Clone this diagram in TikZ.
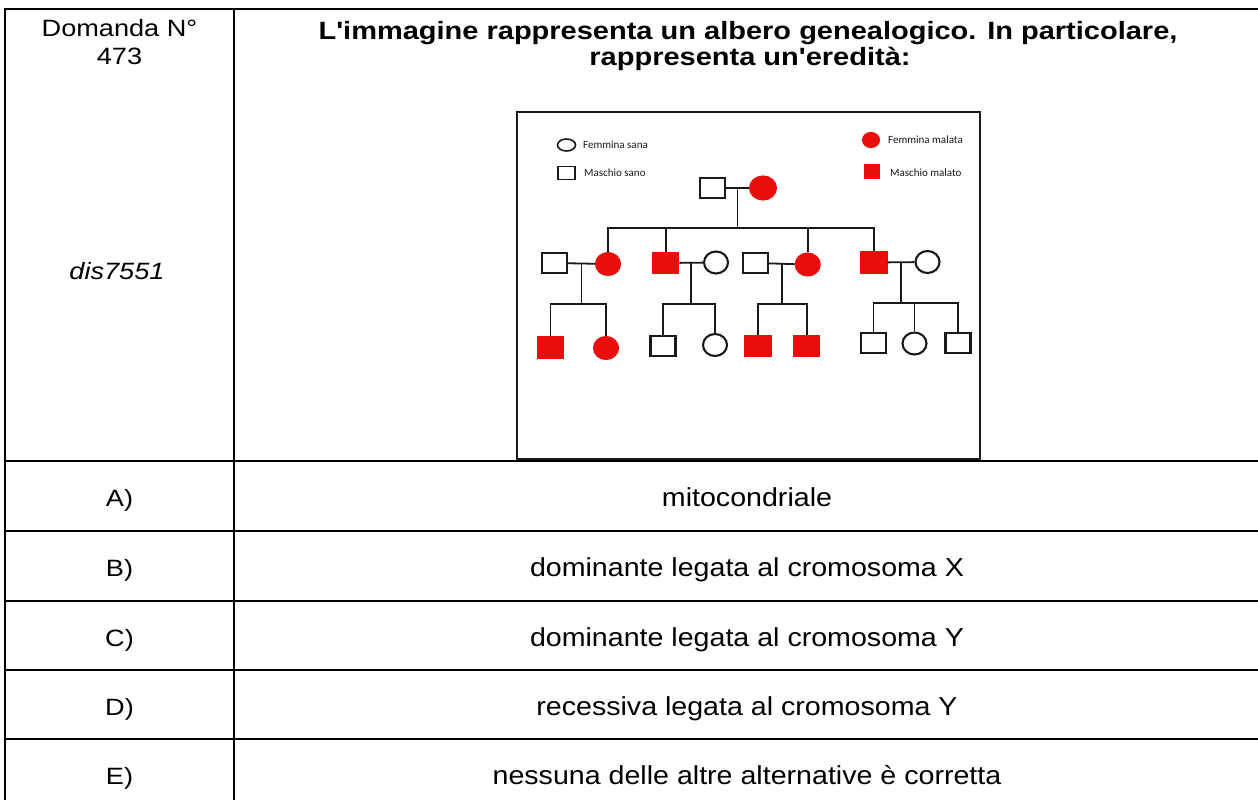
\documentclass[tikz,border=0pt]{standalone}
\usepackage{fontspec}
\setmainfont{Liberation Sans}
\newfontfamily\legfont{Carlito}
\usetikzlibrary{shapes.geometric,calc}
\definecolor{pedred}{RGB}{235,12,12}
\definecolor{ink}{RGB}{25,25,25}
\newcommand\sx[2]{\scalebox{#1}[1]{#2}}
\newcommand\fsS{\fontsize{23.6}{27.6}\selectfont}
\newcommand\fsL{\fontsize{26}{29}\selectfont}
\newcommand\fsT{\fontsize{25}{29}\selectfont}
\begin{document}
\begin{tikzpicture}[x=1pt,y=-1pt,
  grid/.style={line width=2.7pt,black},
  txt/.style={inner sep=0pt,anchor=base},
  ped/.style={line width=1.8pt,ink},
  male/.style={rectangle,draw=ink,line width=2.1pt,fill=white,minimum width=25pt,minimum height=20pt,inner sep=0pt},
  female/.style={ellipse,draw=ink,line width=2.1pt,fill=white,minimum width=24pt,minimum height=22pt,inner sep=0pt},
  sick/.style={fill=pedred,draw=pedred},
  legtxt/.style={inner sep=0pt,anchor=west,font=\legfont\fontsize{11}{12}\selectfont,text=ink}
]
\useasboundingbox (0,0) rectangle (1258,800);
\fill[white] (0,0) rectangle (1258,800);

% table grid
\draw[grid] (5,800) -- (5,9) -- (1258,9);
\draw[grid] (234,9) -- (234,800);
\foreach \yy in {461,531,601,670,739} \draw[grid] (5,\yy) -- (1258,\yy);

% header texts
\node[txt] (qa) at (119.5,36.7) {\fsS\sx{1.15}{Domanda N°}};
\node[txt] (qb) at (119.5,64.3) {\fsS\sx{1.15}{473}};
\node[txt] (qc) at (117,279) {\fsS\itshape\sx{1.15}{dis7551}};
\node[txt] (t1) at (748,39.5) {\fsT\bfseries\sx{1.16}{L\textquotesingle immagine rappresenta un albero genealogico. In particolare,}};
\node[txt] (t2) at (750,65.5) {\fsT\bfseries\sx{1.16}{rappresenta un\textquotesingle eredità:}};

% answers
\node[txt] (la) at (119.5,506.5) {\fsS\sx{1.15}{A)}};
\node[txt] (lb) at (119.5,576.5) {\fsS\sx{1.15}{B)}};
\node[txt] (lc) at (119.5,646) {\fsS\sx{1.15}{C)}};
\node[txt] (ld) at (119.5,715) {\fsS\sx{1.15}{D)}};
\node[txt] (le) at (119.5,784) {\fsS\sx{1.15}{E)}};
\node[txt] (aa) at (747,506.5) {\fsL\sx{1.1}{mitocondriale}};
\node[txt] (ab) at (747,576.5) {\fsL\sx{1.1}{dominante legata al cromosoma X}};
\node[txt] (ac) at (747,646) {\fsL\sx{1.1}{dominante legata al cromosoma Y}};
\node[txt] (ad) at (747,715) {\fsL\sx{1.1}{recessiva legata al cromosoma Y}};
\node[txt] (ae) at (747,784) {\fsL\sx{1.1}{nessuna delle altre alternative è corretta}};

% pedigree frame
\draw[line width=2pt,ink] (517,112) rectangle (980,459);

% connectors (drawn first, shapes on top)
\coordinate (s0) at (0,228);
\coordinate (s1) at (0,304);
\coordinate (s4) at (0,303.3);

% legend
\node[female,minimum width=18pt,minimum height=12pt,line width=1.6pt] (lf) at (566.5,145) {};
\node[legtxt] (lft) at (583,145) {Femmina sana};
\node[male,minimum width=17pt,minimum height=13pt,line width=1.6pt] (lm) at (566.5,173) {};
\node[legtxt] (lmt) at (584,173) {Maschio sano};
\node[female,sick,minimum width=16pt,minimum height=14pt] (lsf) at (871,140) {};
\node[legtxt] (lsft) at (888,140) {Femmina malata};
\node[male,sick,minimum width=14pt,minimum height=13pt] (lsm) at (872,171.5) {};
\node[legtxt] (lsmt) at (890,173) {Maschio malato};

% generation 0
\node[male] (p0m) at (712.5,188) {};
\node[female,sick,minimum width=26pt,minimum height=23pt] (p0f) at (763,188) {};

% generation 1
\node[male] (h1) at (554.5,263) {};
\node[female,sick] (g1a) at (608,264) {};
\node[male,sick] (g1b) at (665.7,263) {};
\node[female] (w2) at (716,262.5) {};
\node[male] (h3) at (755.5,263) {};
\node[female,sick] (g1c) at (807.7,264.5) {};
\node[male,sick] (g1d) at (874,262.5) {};
\node[female] (w4) at (927.5,262) {};

% generation 2
\node[male,sick] (k1) at (550.5,347.5) {};
\node[female,sick] (k2) at (606,348) {};
\node[male] (k3) at (663,346) {};
\node[female] (k4) at (715,345) {};
\node[male,sick] (k5) at (758,346) {};
\node[male,sick] (k6) at (806.7,346) {};
\node[male] (k7) at (873.5,343) {};
\node[female] (k8) at (914.5,343.5) {};
\node[male] (k9) at (958,343) {};

\draw[ped] (p0m) -- (p0f);
\coordinate (m0) at ($(p0m.east)!0.5!(p0f.west)$);
\draw[ped] (m0) -- (m0 |- s0);
\draw[ped] (g1a.north) -- (g1a.north |- s0) -- (g1d.north |- s0) -- (g1d.north);
\draw[ped] (g1b.north) -- (g1b.north |- s0);
\draw[ped] (g1c.north) -- (g1c.north |- s0);

\draw[ped] (h1) -- (g1a);
\coordinate (m1) at ($(h1.east)!0.5!(g1a.west)$);
\draw[ped] (m1) -- (m1 |- s1);
\draw[ped] (k1.north) -- (k1.north |- s1) -- (k2.north |- s1) -- (k2.north);

\draw[ped] (g1b) -- (w2);
\coordinate (m2) at ($(g1b.east)!0.5!(w2.west)$);
\draw[ped] (m2) -- (m2 |- s1);
\draw[ped] (k3.north) -- (k3.north |- s1) -- (k4.north |- s1) -- (k4.north);

\draw[ped] (h3) -- (g1c);
\coordinate (m3) at ($(h3.east)!0.5!(g1c.west)$);
\draw[ped] (m3) -- (m3 |- s1);
\draw[ped] (k5.north) -- (k5.north |- s1) -- (k6.north |- s1) -- (k6.north);

\draw[ped] (g1d) -- (w4);
\coordinate (m4) at ($(g1d.east)!0.5!(w4.west)$);
\draw[ped] (m4) -- (m4 |- s4);
\draw[ped] (k7.north) -- (k7.north |- s4) -- (k9.north |- s4) -- (k9.north);
\draw[ped] (k8.north) -- (k8.north |- s4);
\end{tikzpicture}
\end{document}
